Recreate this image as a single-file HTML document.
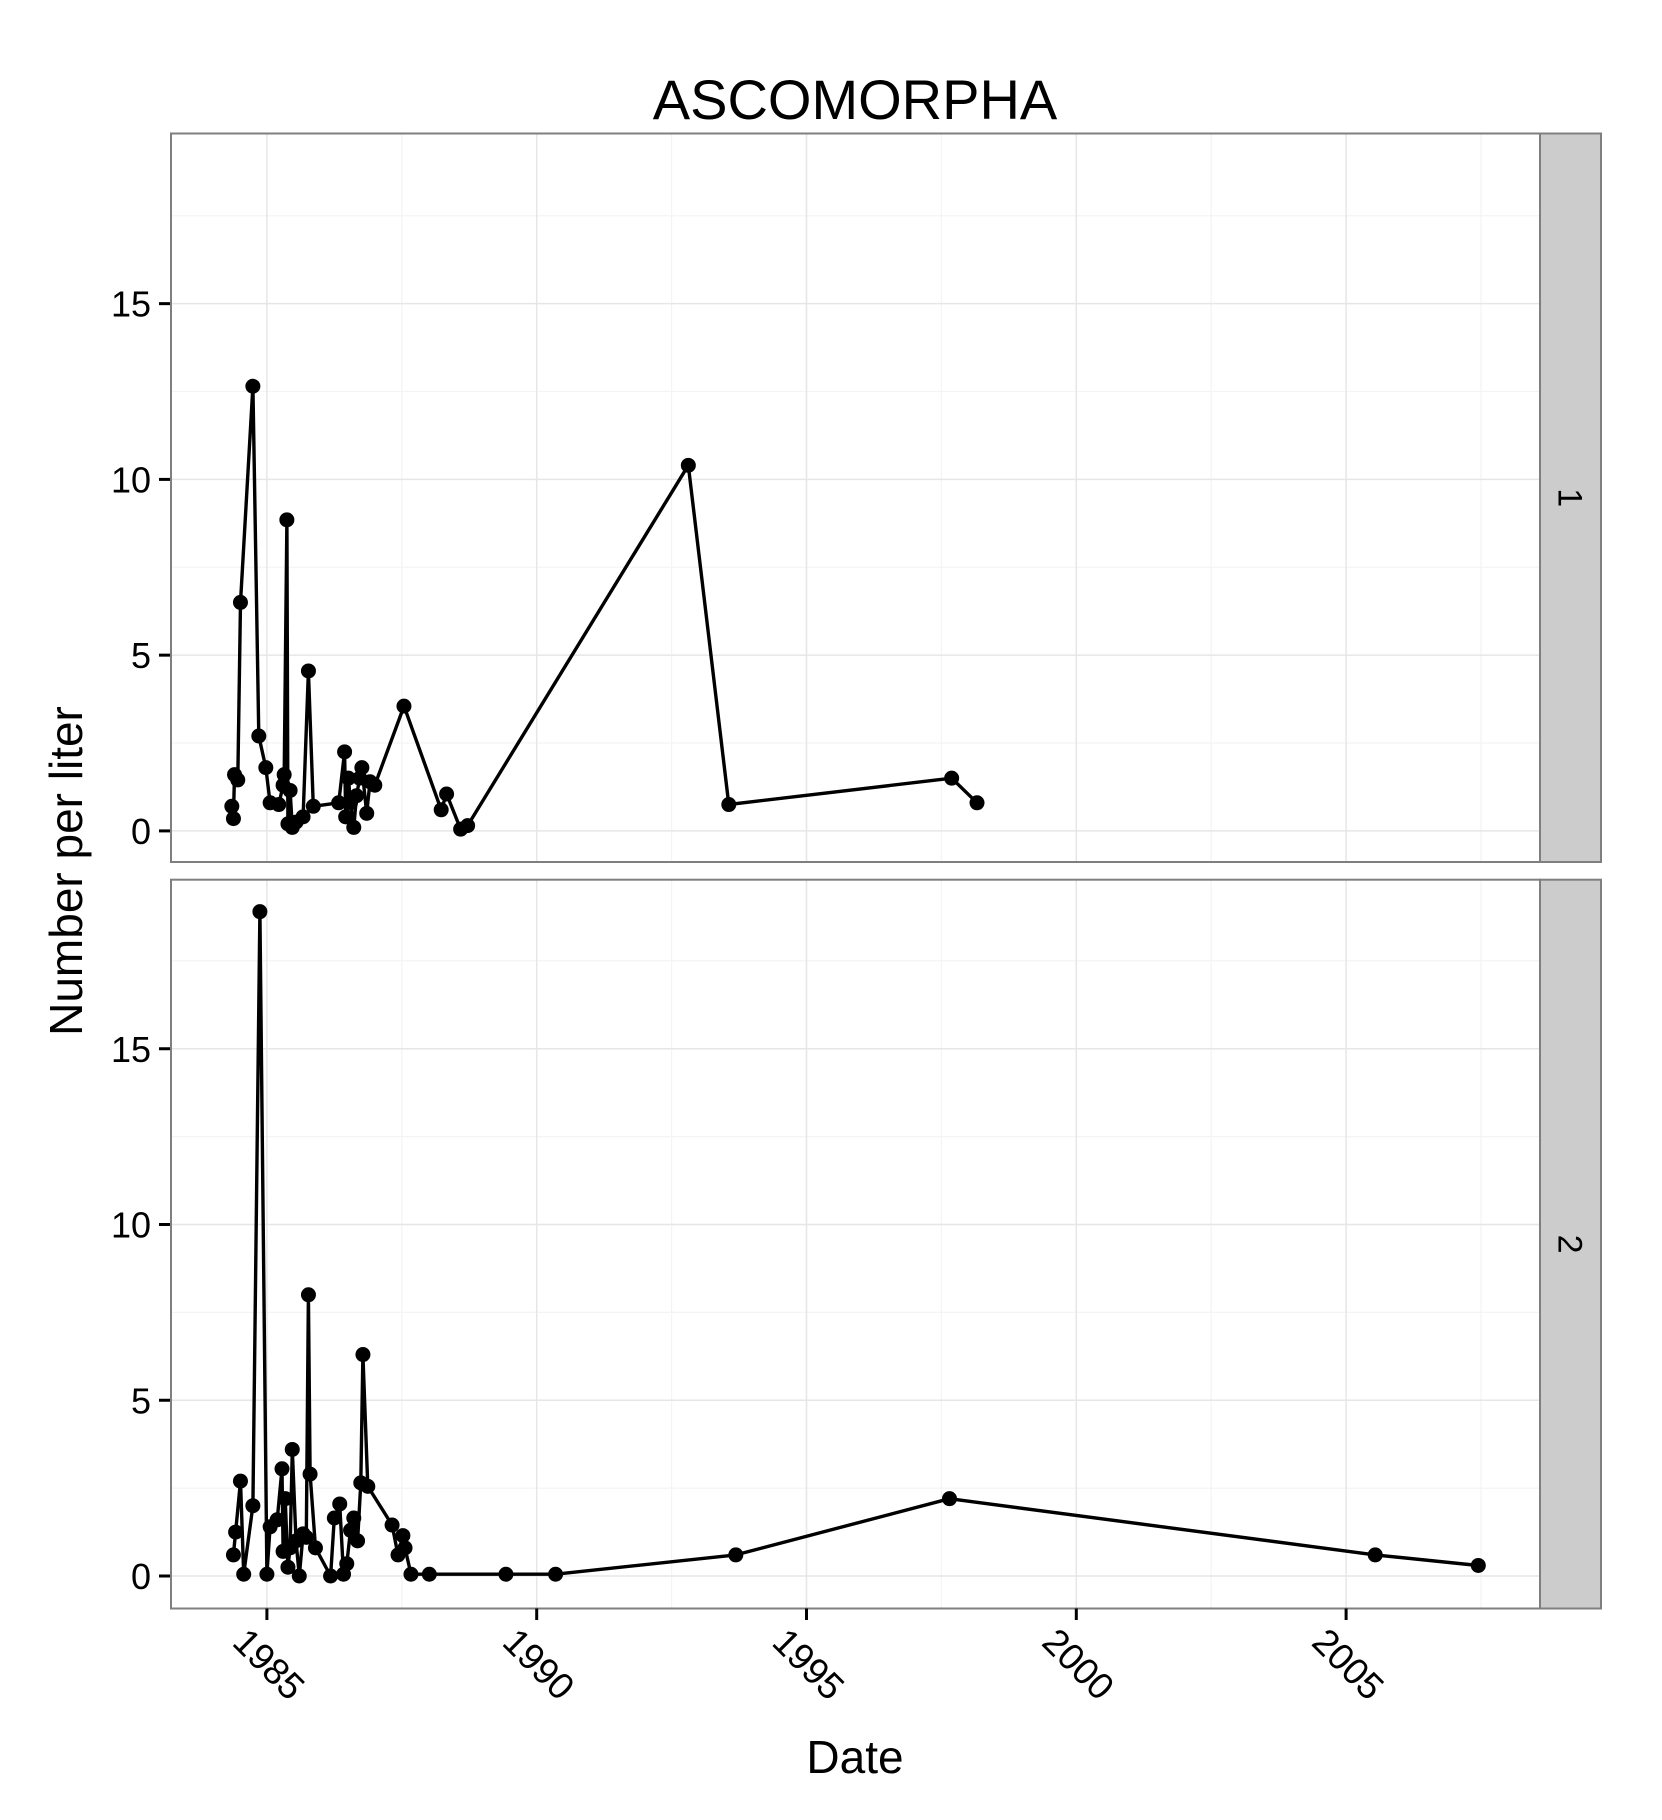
<!DOCTYPE html>
<html><head><meta charset="utf-8"><style>
html,body{margin:0;padding:0;background:#fff;}
svg{display:block;font-family:"Liberation Sans",Arial,sans-serif;}
</style></head><body>
<svg id="chart" width="1662" height="1820" viewBox="0 0 1662 1820" xmlns="http://www.w3.org/2000/svg">
<text x="855" y="119" font-size="56" text-anchor="middle">ASCOMORPHA</text>
<text transform="translate(82,871) rotate(-90)" font-size="46" text-anchor="middle">Number per liter</text>
<text x="855" y="1773" font-size="46" text-anchor="middle">Date</text>
<g id="plot"></g>
</svg>
<script>
const xTicks=[1985,1990,1995,2000,2005];
const yTicks=[0,5,10,15];
const panelLabels=["1","2"];
const years1=[1984.35,1984.38,1984.40,1984.46,1984.51,1984.74,1984.85,1984.98,1985.06,1985.22,1985.30,1985.32,1985.37,1985.39,1985.43,1985.47,1985.54,1985.67,1985.77,1985.86,1986.33,1986.44,1986.46,1986.51,1986.55,1986.61,1986.66,1986.72,1986.76,1986.85,1986.91,1987.00,1987.54,1988.23,1988.33,1988.59,1988.72,1992.81,1993.56,1997.69,1998.16];
const values1=[0.7,0.35,1.6,1.45,6.5,12.65,2.7,1.8,0.8,0.75,1.3,1.6,8.85,0.2,1.15,0.1,0.25,0.4,4.55,0.7,0.8,2.25,0.4,1.5,0.8,0.1,1.0,1.5,1.8,0.5,1.4,1.3,3.55,0.6,1.05,0.05,0.15,10.4,0.75,1.5,0.8];
const years2=[1984.38,1984.42,1984.51,1984.57,1984.74,1984.87,1985.00,1985.06,1985.19,1985.28,1985.30,1985.34,1985.39,1985.43,1985.47,1985.54,1985.60,1985.67,1985.73,1985.77,1985.80,1985.90,1986.18,1986.25,1986.35,1986.42,1986.48,1986.55,1986.61,1986.68,1986.74,1986.78,1986.87,1987.32,1987.43,1987.52,1987.56,1987.67,1988.01,1989.43,1990.35,1993.69,1997.65,2005.54,2007.45];
const values2=[0.6,1.25,2.7,0.05,2.0,18.9,0.05,1.4,1.6,3.05,0.7,2.2,0.25,0.8,3.6,1.0,0.0,1.2,1.1,8.0,2.9,0.8,0.0,1.65,2.05,0.05,0.35,1.3,1.65,1.0,2.65,6.3,2.55,1.45,0.6,1.15,0.8,0.05,0.05,0.05,0.05,0.6,2.2,0.6,0.3];

const NS="http://www.w3.org/2000/svg";
const plot=document.getElementById('plot');
function mk(tag,attrs,parent){const e=document.createElementNS(NS,tag);for(const k in attrs)e.setAttribute(k,attrs[k]);(parent||plot).appendChild(e);return e;}
const PL=171,PR=1540,SR=1601;
const xScale=y=>266.9+(y-1985)*53.96;
const panels=[{top:133.5,bottom:862,zero:830.9,years:years1,values:values1},{top:879.7,bottom:1608.5,zero:1576,years:years2,values:values2}];
const unit=35.15;
panels.forEach((p,pi)=>{
  const yScale=v=>p.zero-v*unit;
  const g=mk('g',{});
  
  
  mk('rect',{x:PL,y:p.top,width:PR-PL,height:p.bottom-p.top,fill:'#fff'},g);
  for(let v=2.5;v<20;v+=5){const y=yScale(v);if(y>p.top)mk('line',{x1:PL,x2:PR,y1:y,y2:y,stroke:'#f4f4f4','stroke-width':1.2},g);}
  for(let yr=1982.5;yr<2010;yr+=5){const x=xScale(yr);if(x>PL&&x<PR)mk('line',{x1:x,x2:x,y1:p.top,y2:p.bottom,stroke:'#f4f4f4','stroke-width':1.2},g);}
  yTicks.forEach(v=>{const y=yScale(v);mk('line',{x1:PL,x2:PR,y1:y,y2:y,stroke:'#e6e6e6','stroke-width':1.5},g);
    mk('line',{x1:PL-12,x2:PL,y1:y,y2:y,stroke:'#000','stroke-width':3},g);
    const tx=mk('text',{x:PL-20,y:y+13,'font-size':36,'text-anchor':'end'},g);tx.textContent=v;
    
    });
  xTicks.forEach(yr=>{const x=xScale(yr);mk('line',{x1:x,x2:x,y1:p.top,y2:p.bottom,stroke:'#e6e6e6','stroke-width':1.5},g);});
  mk('rect',{x:PL,y:p.top,width:PR-PL,height:p.bottom-p.top,fill:'none',stroke:'#7f7f7f','stroke-width':2},g);
  const strip=mk('rect',{x:PR,y:p.top,width:SR-PR,height:p.bottom-p.top,fill:'#cccccc',stroke:'#7f7f7f','stroke-width':2},g);
  
  
  const sl=mk('text',{transform:`translate(${(PR+SR)/2-12},${(p.top+p.bottom)/2}) rotate(90)`,'font-size':34,'text-anchor':'middle'},g);
  sl.textContent=panelLabels[pi];
  
  
  const pts=p.years.map((yr,i)=>xScale(yr).toFixed(1)+','+yScale(p.values[i]).toFixed(1)).join(' ');
  const line=mk('polyline',{points:pts,fill:'none',stroke:'#000','stroke-width':3.4,'stroke-linejoin':'round'},g);
  
  
  p.years.forEach((yr,i)=>{const c=mk('circle',{cx:xScale(yr),cy:yScale(p.values[i]),r:7.5,fill:'#000'},g);
    
    });
});
xTicks.forEach(yr=>{const x=xScale(yr);
  mk('line',{x1:x,x2:x,y1:1608.5,y2:1620,stroke:'#000','stroke-width':3});
  const t=mk('text',{transform:`translate(${x-36},${1644}) rotate(45)`,'font-size':37});
  t.textContent=yr;
  
  });
</script>
</body></html>
